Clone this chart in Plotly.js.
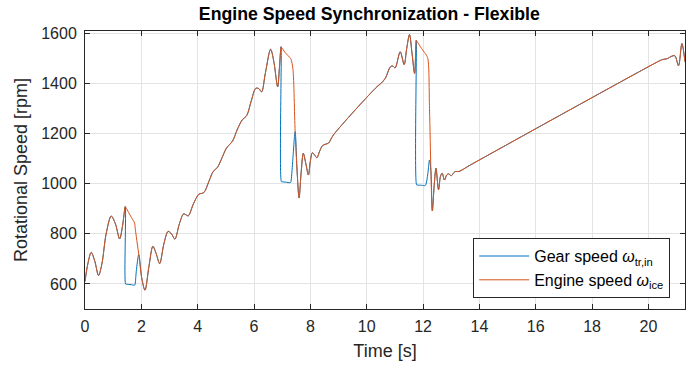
<!DOCTYPE html>
<html>
<head>
<meta charset="utf-8">
<script src="https://cdn.plot.ly/plotly-3.0.1.min.js"></script>
<style>html,body{margin:0;padding:0;background:#fff;}#chart{width:693px;height:368px;}</style>
</head>
<body>
<div id="chart"></div>
<script>
// Time axis [s]
const timeS = [0.00,0.10,0.22,0.35,0.48,0.60,0.75,0.93,1.08,1.23,1.33,1.43,1.44,1.46,1.55,1.65,1.76,1.78,1.82,1.91,2.02,2.13,2.27,2.41,2.53,2.65,2.80,2.95,3.07,3.19,3.35,3.50,3.60,3.67,3.85,4.04,4.22,4.40,4.55,4.70,4.85,5.02,5.24,5.40,5.58,5.74,5.90,6.06,6.17,6.27,6.40,6.59,6.70,6.84,6.90,6.96,6.97,6.99,7.10,7.30,7.32,7.38,7.46,7.53,7.60,7.67,7.75,7.84,7.93,8.00,8.07,8.15,8.23,8.33,8.43,8.54,8.64,8.82,10.36,10.50,10.66,10.84,10.92,11.01,11.19,11.33,11.42,11.52,11.61,11.70,11.76,11.77,11.79,11.95,12.08,12.11,12.17,12.23,12.28,12.33,12.40,12.46,12.55,12.62,12.68,12.76,12.84,12.91,13.00,13.10,13.15,13.27,13.68,20.38,20.50,20.68,20.80,20.94,21.07,21.19,21.30];
// Engine speed omega_ice [rpm]
const engineSpeed = [610,680,726,690,634,680,800,871,840,780,830,909,907,904,885,865,843,825,790,717,620,575,670,750,720,681,760,810,800,779,840,880,875,872,920,958,965,1010,1049,1065,1100,1142,1171,1215,1255,1272,1330,1381,1380,1367,1440,1537,1490,1387,1460,1547,1545,1543,1525,1500,1495,1460,1208,1050,943,1040,1122,1080,1035,1090,1124,1115,1104,1130,1152,1158,1162,1195,1387,1400,1421,1467,1470,1463,1527,1476,1540,1596,1520,1441,1573,1571,1568,1540,1520,1515,1500,1300,1050,892,1000,1062,976,1030,1042,1015,1035,1040,1032,1045,1049,1049,1075,1490,1496,1500,1508,1511,1471,1560,1487];
// Gear speed omega_tr,in [rpm]
const gearSpeed = [610,680,726,690,634,680,800,871,840,780,830,909,600,599,598,597,595,600,650,717,620,575,670,750,720,681,760,810,800,779,840,880,875,872,920,958,965,1010,1049,1065,1100,1142,1171,1215,1255,1272,1330,1381,1380,1367,1440,1537,1490,1387,1460,1547,1009,1008,1007,1005,1015,1100,1208,1050,943,1040,1122,1080,1035,1090,1124,1115,1104,1130,1152,1158,1162,1195,1387,1400,1421,1467,1470,1463,1527,1476,1540,1596,1520,1441,1573,996,995,994,993,1000,1040,1095,1050,892,1000,1062,976,1030,1042,1015,1035,1040,1032,1045,1049,1049,1075,1490,1496,1500,1508,1511,1471,1560,1487];
const seriesNames = ['Gear speed <i>ω</i><sub>tr,in</sub>', 'Engine speed <i>ω</i><sub>ice</sub>'];
const xTicks = [0,2,4,6,8,10,12,14,16,18,20];
const yTicks = [600,800,1000,1200,1400,1600];

const FONT = 'Liberation Sans, Arial, Helvetica, sans-serif';
const traces = [
  {x: timeS, y: gearSpeed, name: seriesNames[0], type: 'scatter', mode: 'lines',
   line: {color: '#0072BD', width: 1, shape: 'spline', smoothing: 0.9}},
  {x: timeS, y: engineSpeed, name: seriesNames[1], type: 'scatter', mode: 'lines',
   line: {color: '#D95319', width: 1, shape: 'spline', smoothing: 0.9}}
];
const axisCommon = {
  showline: true, linecolor: '#262626', linewidth: 1, mirror: 'allticks',
  ticks: 'inside', ticklen: 5, tickcolor: '#262626', tickwidth: 1,
  showgrid: true, gridcolor: '#e3e3e3', gridwidth: 1, zeroline: false,
  tickfont: {family: FONT, size: 16, color: '#262626'}
};
const layout = {
  width: 693, height: 368,
  margin: {l: 85, r: 8, t: 31, b: 59},
  paper_bgcolor: '#ffffff', plot_bgcolor: '#ffffff',
  title: {text: '<b>Engine Speed Synchronization - Flexible</b>', x: 0.533, xanchor: 'center', y: 0.962, yanchor: 'middle',
          font: {family: FONT, size: 17.7, color: '#000'}},
  xaxis: Object.assign({}, axisCommon, {range: [0, 21.3], tickvals: xTicks, ticktext: xTicks.map(String), ticklabelstandoff: 3,
          title: {text: 'Time [s]', standoff: 10, font: {family: FONT, size: 18, color: '#262626'}}}),
  yaxis: Object.assign({}, axisCommon, {range: [500, 1610], tickvals: yTicks, ticktext: yTicks.map(String), ticklabelstandoff: 4,
          title: {text: 'Rotational Speed [rpm]', standoff: 8, font: {family: FONT, size: 18, color: '#262626'}}}),
  showlegend: true,
  legend: {x: 0.647, y: 0.255, xanchor: 'left', yanchor: 'top', bgcolor: '#ffffff',
           bordercolor: '#262626', borderwidth: 1, itemwidth: 50, tracegroupgap: 0,
           font: {family: FONT, size: 16, color: '#000'}}
};
Plotly.newPlot('chart', traces, layout, {displayModeBar: false, staticPlot: true});
</script>
</body>
</html>
